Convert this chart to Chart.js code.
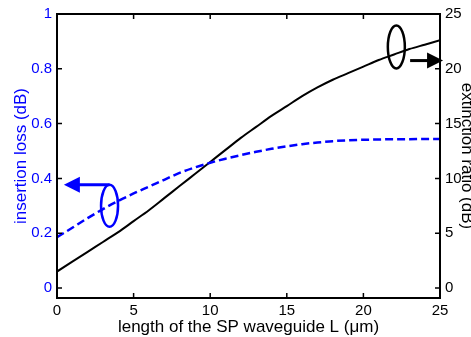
<!DOCTYPE html>
<html lang="en">
<head>
    <meta charset="UTF-8">
    <title>Insertion loss and extinction ratio</title>
    <script src="https://cdn.jsdelivr.net/npm/chart.js"></script>
    <style>
        body { margin: 0; background: #ffffff; }
        #wrap { width: 471px; height: 337px; }
    </style>
</head>
<body>
    <div id="wrap"><canvas id="chart" width="471" height="337"></canvas></div>
    <script>
        // length of the SP waveguide L (um)
        const lengthL = [0, 1, 2, 3, 4, 5, 6, 7, 8, 9, 10, 11, 12, 13, 14, 15, 16, 17, 18, 19, 20, 21, 22, 23, 24, 25];
        // insertion loss (dB), left axis
        const insertionLoss = [0.185, 0.22, 0.255, 0.288, 0.318, 0.345, 0.37, 0.395, 0.42, 0.44, 0.457, 0.472, 0.485,
                               0.497, 0.508, 0.517, 0.525, 0.531, 0.536, 0.539, 0.541, 0.542, 0.543, 0.543, 0.544, 0.544];
        // extinction ratio (dB), right axis
        const extinctionRatio = [1.5, 2.4, 3.3, 4.2, 5.1, 6.1, 7.1, 8.2, 9.3, 10.4, 11.5, 12.6, 13.7,
                                 14.7, 15.7, 16.6, 17.5, 18.3, 19.0, 19.6, 20.2, 20.8, 21.3, 21.8, 22.2, 22.6];
        const xTicks = [0, 5, 10, 15, 20, 25];
        const lossTicks = [0, 0.2, 0.4, 0.6, 0.8, 1];
        const ratioTicks = [0, 5, 10, 15, 20, 25];

        const BLUE = '#0000ff';
        const FONT = 'Arial, "Liberation Sans", Helvetica, sans-serif';

        // the box and the inward ticks, MATLAB style
        const boxPlugin = {
            id: 'box',
            afterDatasetsDraw(chart) {
                const { ctx, chartArea: a, scales } = chart;
                ctx.save();
                ctx.strokeStyle = '#000';
                ctx.lineWidth = 1.5;
                ctx.beginPath();
                xTicks.forEach(v => {
                    const px = scales.x.getPixelForValue(v);
                    ctx.moveTo(px, a.bottom); ctx.lineTo(px, a.bottom - 5);
                    ctx.moveTo(px, a.top); ctx.lineTo(px, a.top + 5);
                });
                lossTicks.forEach(v => {
                    const py = scales.yL.getPixelForValue(v);
                    ctx.moveTo(a.left, py); ctx.lineTo(a.left + 5, py);
                });
                ratioTicks.forEach(v => {
                    const py = scales.yR.getPixelForValue(v);
                    ctx.moveTo(a.right, py); ctx.lineTo(a.right - 5, py);
                });
                ctx.stroke();
                ctx.lineWidth = 2;
                ctx.strokeRect(a.left, a.top, a.right - a.left, a.bottom - a.top);
                ctx.restore();
            }
        };

        // ellipse + arrow markers telling which curve belongs to which axis
        const markerPlugin = {
            id: 'markers',
            afterDatasetsDraw(chart) {
                const { ctx, scales } = chart;
                const arrow = (x0, x1, y, color) => {
                    const dir = Math.sign(x1 - x0);
                    ctx.strokeStyle = color; ctx.fillStyle = color;
                    ctx.lineWidth = 3;
                    ctx.beginPath();
                    ctx.moveTo(x0, y); ctx.lineTo(x1 - dir * 12, y);
                    ctx.stroke();
                    ctx.beginPath();
                    ctx.moveTo(x1, y);
                    ctx.lineTo(x1 - dir * 16, y - 8);
                    ctx.lineTo(x1 - dir * 16, y + 8);
                    ctx.closePath();
                    ctx.fill();
                };
                ctx.save();
                // blue: insertion loss -> left axis
                let cx = scales.x.getPixelForValue(3.43), cy = scales.yL.getPixelForValue(0.30);
                ctx.strokeStyle = BLUE; ctx.lineWidth = 2.5;
                ctx.beginPath(); ctx.ellipse(cx, cy, 8.5, 21, 0, 0, Math.PI * 2); ctx.stroke();
                arrow(cx, scales.x.getPixelForValue(0.45), cy - 21, BLUE);
                // black: extinction ratio -> right axis
                cx = scales.x.getPixelForValue(22.15); cy = scales.yR.getPixelForValue(22.0);
                ctx.strokeStyle = '#000'; ctx.lineWidth = 2.5;
                ctx.beginPath(); ctx.ellipse(cx, cy, 8.5, 21.5, 0, 0, Math.PI * 2); ctx.stroke();
                arrow(scales.x.getPixelForValue(23.05), scales.x.getPixelForValue(25.2), scales.yR.getPixelForValue(20.75), '#000');
                ctx.restore();
            }
        };

        new Chart(document.getElementById('chart'), {
            type: 'line',
            data: {
                datasets: [{
                    label: 'insertion loss',
                    data: lengthL.map((x, i) => ({ x, y: insertionLoss[i] })),
                    yAxisID: 'yL',
                    borderColor: BLUE,
                    borderWidth: 2.5,
                    borderDash: [8, 4],
                    pointRadius: 0,
                    cubicInterpolationMode: 'monotone'
                }, {
                    label: 'extinction ratio',
                    data: lengthL.map((x, i) => ({ x, y: extinctionRatio[i] })),
                    yAxisID: 'yR',
                    borderColor: '#000',
                    borderWidth: 2,
                    pointRadius: 0,
                    cubicInterpolationMode: 'monotone'
                }]
            },
            options: {
                responsive: false,
                animation: false,
                devicePixelRatio: 1,
                layout: { padding: { top: 14, left: 0, right: 0, bottom: 0 } },
                plugins: { legend: { display: false }, tooltip: { enabled: false } },
                scales: {
                    x: {
                        type: 'linear', min: 0, max: 25,
                        afterBuildTicks: s => { s.ticks = xTicks.map(value => ({ value })); },
                        afterFit: s => { s.height = 39; },
                        grid: { display: false, drawTicks: false },
                        border: { display: false },
                        ticks: { color: '#000', padding: 4, maxRotation: 0, font: { family: FONT, size: 15 } },
                        title: { display: true, text: 'length of the SP waveguide L (\u03bcm)', color: '#000',
                                 font: { family: FONT, size: 17, lineHeight: 1 }, padding: { top: 0, bottom: 1 } }
                    },
                    yL: {
                        position: 'left', min: -0.0365, max: 1,
                        afterBuildTicks: s => { s.ticks = lossTicks.map(value => ({ value })); },
                        afterFit: s => { s.width = 57; },
                        grid: { display: false, drawTicks: false },
                        border: { display: false },
                        ticks: { color: BLUE, padding: 5, font: { family: FONT, size: 15 }, callback: v => String(v) },
                        title: { display: true, text: 'insertion loss (dB)', color: BLUE,
                                 font: { family: FONT, size: 17, lineHeight: 1 }, padding: { top: 13, bottom: 0 } }
                    },
                    yR: {
                        position: 'right', min: -0.9125, max: 25,
                        afterBuildTicks: s => { s.ticks = ratioTicks.map(value => ({ value })); },
                        afterFit: s => { s.width = 31; },
                        grid: { display: false, drawTicks: false },
                        border: { display: false },
                        ticks: { color: '#000', padding: 5, font: { family: FONT, size: 15 } },
                        title: { display: true, text: 'extinction ratio (dB)', color: '#000',
                                 font: { family: FONT, size: 17, lineHeight: 1 }, padding: { top: -4, bottom: 0 } }
                    }
                }
            },
            plugins: [boxPlugin, markerPlugin]
        });
    </script>
</body>
</html>
